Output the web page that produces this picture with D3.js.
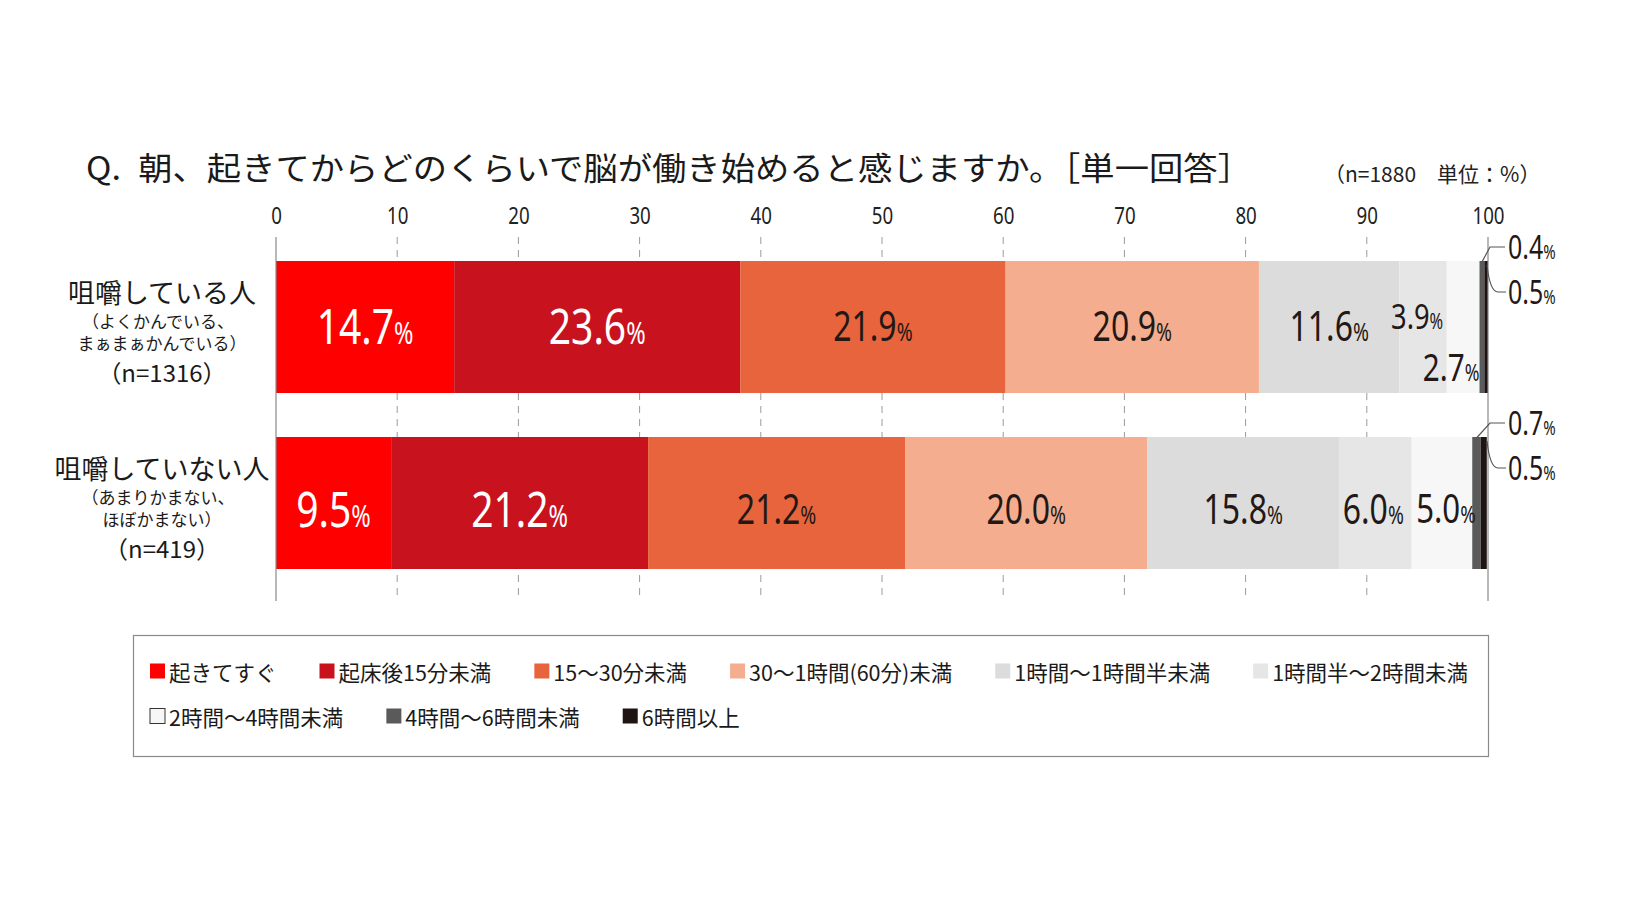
<!DOCTYPE html>
<html><head><meta charset="utf-8">
<script src="https://cdn.jsdelivr.net/npm/d3@7"></script>
<style>
html,body{margin:0;padding:0;background:#fff;}
svg{display:block;font-family:"Noto Sans CJK JP","Noto Sans",sans-serif;}
</style></head>
<body><svg id="chart" width="1630" height="913"></svg>
<script>
// ---- data ----
const titleText = "Q.\u2002朝、起きてからどのくらいで脳が働き始めると感じますか。［単一回答］";
const noteText = "（n=1880　単位：%）";
const categories = ["咀嚼している人", "咀嚼していない人"];
const subLabels = [["（よくかんでいる、", "まぁまぁかんでいる）"], ["（あまりかまない、", "ほぼかまない）"]];
const sampleSizes = ["（n=1316）", "（n=419）"];
const seriesNames = ["起きてすぐ", "起床後15分未満", "15～30分未満", "30～1時間(60分)未満", "1時間～1時間半未満", "1時間半～2時間未満", "2時間～4時間未満", "4時間～6時間未満", "6時間以上"];
const seriesColors = ["#fe0000", "#c8121e", "#e8643c", "#f4ad8e", "#dcdcdc", "#e6e6e6", "#f7f7f7", "#5a5a5a", "#1e1414"];
const chewers = [14.7, 23.6, 21.9, 20.9, 11.6, 3.9, 2.7, 0.4, 0.5];
const nonChewers = [9.5, 21.2, 21.2, 20.0, 15.8, 6.0, 5.0, 0.7, 0.5];
const tickValues = [0, 10, 20, 30, 40, 50, 60, 70, 80, 90, 100];

const rows = [chewers, nonChewers];

// ---- setup ----
const svg = d3.select("#chart");
const x = d3.scaleLinear().domain([0, 100]).range([276, 1488]).clamp(true);
const y = d3.scaleBand().domain(categories).range([239, 591]).paddingInner(0.25).paddingOuter(0.125);
const NUM_SX = 0.78;

// title
svg.append("text").attr("x", 86).attr("y", 166).attr("dominant-baseline", "central")
  .attr("font-size", 32).attr("fill", "#1a1a1a").attr("textLength", 1166).attr("lengthAdjust", "spacingAndGlyphs")
  .text(titleText);
svg.append("text").attr("x", 1324).attr("y", 173).attr("dominant-baseline", "central")
  .attr("font-size", 21).attr("fill", "#222").text(noteText);

// gridlines (dashed) behind bars
const gridTop = 237, gridBottom = 601;
svg.append("g").selectAll("line").data(tickValues.filter(d => d > 0 && d < 100)).join("line")
  .attr("x1", d => x(d)).attr("x2", d => x(d)).attr("y1", gridTop).attr("y2", gridBottom)
  .attr("stroke", "#9a9a9a").attr("stroke-width", 1).attr("stroke-dasharray", "7,6");

// axis on top
const axis = svg.append("g").attr("transform", "translate(0,226)")
  .call(d3.axisTop(x).tickValues(tickValues).tickSize(0).tickPadding(0));
axis.select(".domain").remove();
axis.selectAll("text").attr("font-size", 24).attr("fill", "#222")
  .attr("font-family", "'Noto Sans','Noto Sans CJK JP',sans-serif")
  .attr("transform", `scale(${NUM_SX},1)`).attr("dy", 0).attr("y", -2);

// stacked bars
const stacked = rows.map((vals, r) => {
  let acc = 0;
  return vals.map((v, i) => { const s = { r, i, v, x0: acc, x1: acc + v }; acc += v; return s; });
});
const barG = svg.append("g");
stacked.forEach((segs, r) => {
  barG.selectAll(null).data(segs).join("rect")
    .attr("x", d => x(d.x0)).attr("width", d => Math.max(0, x(d.x1) - x(d.x0)))
    .attr("y", y(categories[r])).attr("height", y.bandwidth())
    .attr("fill", d => seriesColors[d.i]);
});

// solid lines at 0 and 100
[0, 100].forEach(v => {
  svg.append("line").attr("x1", x(v)).attr("x2", x(v)).attr("y1", gridTop).attr("y2", gridBottom)
    .attr("stroke", "#8a8a8a").attr("stroke-width", 1.2);
});

// value labels
function numLabel(g, cx, cy, val, size, color, anchor) {
  const t = g.append("text")
    .attr("transform", `translate(${cx},${cy + size * 0.36}) scale(${NUM_SX},1)`)
    .attr("text-anchor", anchor || "middle").attr("fill", color)
    .attr("font-family", "'Noto Sans','Noto Sans CJK JP',sans-serif");
  t.append("tspan").attr("font-size", size).text(val.toFixed(1));
  t.append("tspan").attr("font-size", size * 0.6).text("%");
}
const lblG = svg.append("g");
stacked.forEach((segs, r) => {
  const top = y(categories[r]), bh = y.bandwidth();
  const cy = top + bh / 2 + (r === 0 ? -1 : 6);
  segs.forEach(d => {
    if (d.i >= 7) return;
    let cx = (x(d.x0) + x(d.x1)) / 2, yy = cy, size = d.i < 2 ? 50 : 41;
    const color = d.i < 2 ? "#ffffff" : "#231815";
    if (r === 0 && d.i === 5) { yy = cy - 10; size = 35; cx -= 6; }
    if (r === 0 && d.i === 6) { yy = cy + 41; size = 38; cx -= 12; }
    if (r === 1 && d.i === 5) { cx -= 2; }
    if (r === 1 && d.i === 6) { cx += 4; size = 40; }
    numLabel(lblG, cx, yy, d.v, size, color);
  });
  // outside labels for the two smallest segments
  const s7 = segs[7], s8 = segs[8];
  const lx = x(100) + 20;
  const yUp = top - 14, yDn = top + 31;
  lblG.append("polyline")
    .attr("points", [[ (x(s7.x0) + x(s7.x1)) / 2, top + 1], [x(100) + 2, yUp], [x(100) + 17, yUp]].map(p => p.join(",")).join(" "))
    .attr("fill", "none").attr("stroke", "#555").attr("stroke-width", 1.2);
  lblG.append("path")
    .attr("d", `M${x(100) - 1},${top + 4} Q${x(100) + 2},${yDn} ${x(100) + 10},${yDn} L${x(100) + 18},${yDn}`)
    .attr("fill", "none").attr("stroke", "#555").attr("stroke-width", 1.2);
  numLabel(lblG, lx, yUp, s7.v, 32, "#231815", "start");
  numLabel(lblG, lx, yDn, s8.v, 32, "#231815", "start");
});

// category labels (one multi-line text per row)
categories.forEach((c, r) => {
  const top = y(c);
  const cx = 162;
  const t = svg.append("text").attr("fill", "#1a1a1a").attr("text-anchor", "middle");
  t.append("tspan").attr("x", cx).attr("y", top + 42).attr("font-size", 27).text(c);
  t.append("tspan").attr("x", cx - 4).attr("y", top + 67).attr("font-size", 17).text(subLabels[r][0]);
  t.append("tspan").attr("x", cx).attr("y", top + 89).attr("font-size", 17).text(subLabels[r][1]);
  t.append("tspan").attr("x", cx).attr("y", top + 121).attr("font-size", 24).text(sampleSizes[r]);
});

// legend
const legG = svg.append("g");
legG.append("rect").attr("x", 133.5).attr("y", 635.5).attr("width", 1355).attr("height", 121)
  .attr("fill", "#fff").attr("stroke", "#8a8a8a").attr("stroke-width", 1.2);
const legRows = [[0, 1, 2, 3, 4, 5], [6, 7, 8]];
const legY = [671, 716];
const LFS = 21.5, SQ = 15;
// measure text widths
const meas = svg.append("text").attr("font-size", LFS).attr("visibility", "hidden");
const widths = seriesNames.map(n => { meas.text(n); return meas.node().getComputedTextLength(); });
meas.remove();
const startX = 150, endX = 1468;
const row0Total = legRows[0].reduce((s, i) => s + SQ + 4 + widths[i], 0);
const gap = (endX - startX - row0Total) / (legRows[0].length - 1);
legRows.forEach((items, rr) => {
  let cx = startX;
  items.forEach(i => {
    const g = legG.append("g").attr("transform", `translate(${cx},${legY[rr]})`);
    g.append("rect").attr("x", 0).attr("y", -SQ / 2).attr("width", SQ).attr("height", SQ)
      .attr("fill", seriesColors[i])
      .attr("stroke", i === 6 ? "#333" : "none").attr("stroke-width", 1);
    g.append("text").attr("x", SQ + 4).attr("y", 0).attr("dominant-baseline", "central")
      .attr("font-size", LFS).attr("fill", "#1a1a1a").text(seriesNames[i]);
    cx += SQ + 4 + widths[i] + gap;
  });
});
</script></body></html>
